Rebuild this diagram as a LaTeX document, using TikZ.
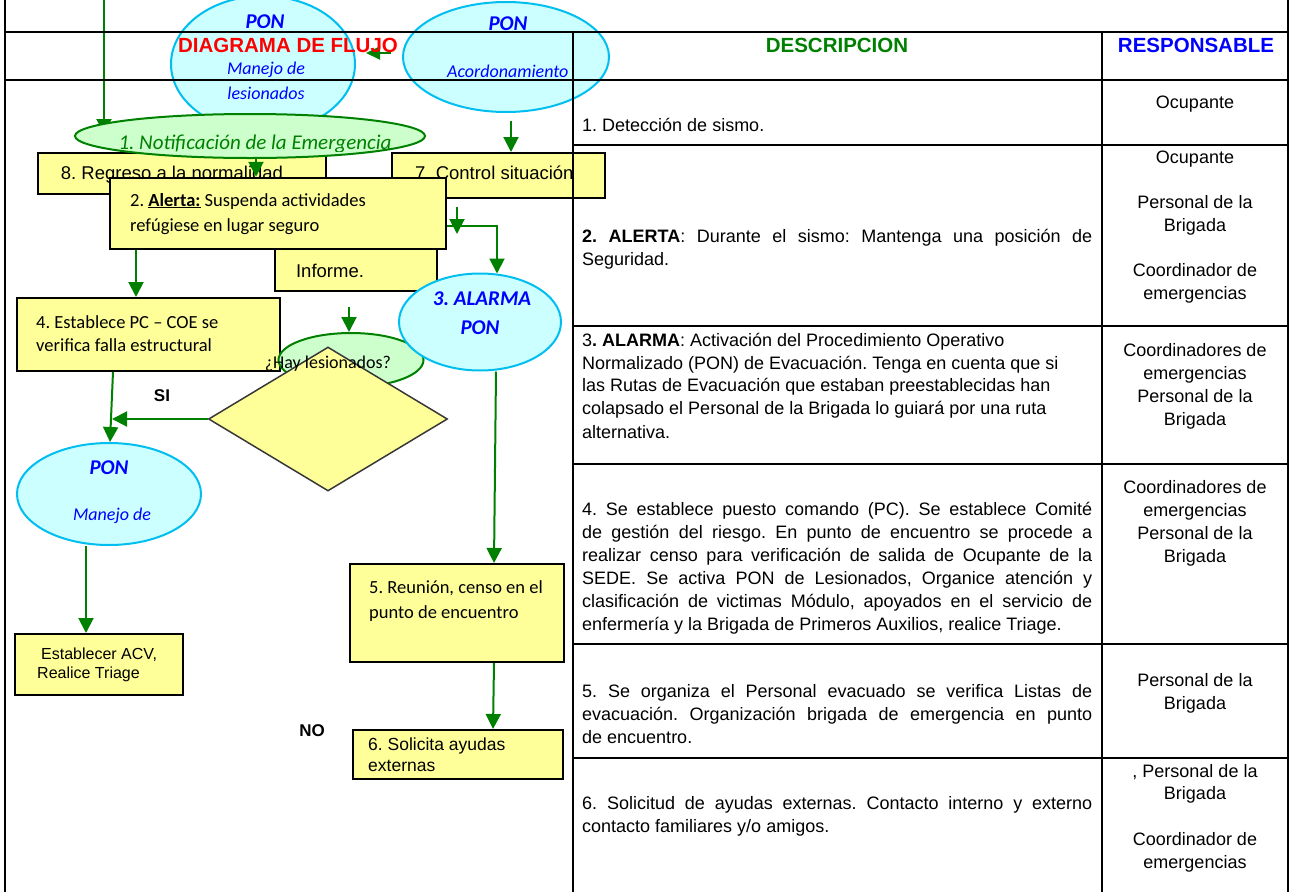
\documentclass[tikz,border=0pt]{standalone}
\usepackage{fontspec}
\setmainfont{Liberation Sans}
\newfontfamily\calfont{Carlito}
\usetikzlibrary{shapes.geometric,arrows.meta}
\definecolor{yel}{HTML}{FFFF99}
\definecolor{cyfill}{HTML}{CCFFFF}
\definecolor{cyline}{HTML}{00BEF0}
\definecolor{grfill}{HTML}{CCFFCC}
\definecolor{grline}{HTML}{008000}
\definecolor{grtext}{HTML}{008000}
\definecolor{bltext}{HTML}{0000FF}
\definecolor{redtext}{HTML}{FF0000}
\definecolor{diaedge}{HTML}{383838}
\newcommand\justline[1]{\makebox[510pt][s]{#1}}
\tikzset{
  ybox/.style={draw=black, line width=2pt, fill=yel, inner sep=0pt},
  cyell/.style={ellipse, draw=cyline, line width=2pt, fill=cyfill, inner sep=0pt},
  grell/.style={ellipse, draw=grline, line width=2pt, fill=grfill, inner sep=0pt},
  arr/.style={draw=grline, line width=2pt, -{Triangle[length=15pt,width=15pt]}},
  gridline/.style={draw=black, line width=1.5pt},
  desc/.style={anchor=base west, inner sep=0pt, font=\fontsize{18}{22}\selectfont},
  resp/.style={anchor=base, inner sep=0pt, font=\fontsize{18}{22}\selectfont},
  hdr/.style={anchor=base, inner sep=0pt, font=\bfseries\fontsize{20.5}{24}\selectfont},
  caltext/.style={anchor=base west, inner sep=0pt, font=\calfont\fontsize{18.5}{22}\selectfont},
  arialtext/.style={anchor=base west, inner sep=0pt, font=\fontsize{18.5}{22}\selectfont},
  ponbig/.style={anchor=base, inner sep=0pt, text=bltext, font=\calfont\bfseries\itshape\fontsize{21}{24}\selectfont},
  ponsmall/.style={anchor=base, inner sep=0pt, text=bltext, font=\calfont\itshape\fontsize{18}{22}\selectfont},
}
\begin{document}
\frenchspacing
\begin{tikzpicture}[x=1pt,y=-1pt]
\useasboundingbox (0,0) rectangle (1291,892);
\fill[white] (0,0) rectangle (1291,892);

% top ellipses
\node[cyell, minimum width=184pt, minimum height=136pt] (eLes) at (263,64) {};
\node[cyell, minimum width=206pt, minimum height=110pt] (eAco) at (506,57) {};
\node[ponbig] (tLesP) at (265,28) {PON};
\node[ponsmall] (tLesA) at (266,74) {Manejo de};
\node[ponsmall] (tLesB) at (266,99) {lesionados};
\node[ponbig] (tAcoP) at (508,30) {PON};
\node[ponsmall, anchor=base west] (tAcoA) at (447,77) {Acordonamiento};

% small arrow between top ellipses
\coordinate (f1) at (391,53);
\coordinate (f2) at (366,53);
\draw[arr, -{Triangle[length=14pt,width=13pt]}] (f1) -- (f2);

% arrow coming from the top
\coordinate (t0) at (104,0);

% boxes 8 and 7
\node[ybox, minimum width=288pt, minimum height=41pt] (b8) at (182,173.5) {};
\node[ybox, minimum width=213pt, minimum height=45pt] (b7) at (498.5,175.5) {};
\node[arialtext, anchor=base] (t8) at (172,179) {8. Regreso a la normalidad};
\node[arialtext] (t7) at (415,179) {7. Control situación};

\draw[arr] (t0) -- (t0 |- 0,134);

% notification ellipse
\node[grell, minimum width=350pt, minimum height=44pt] (eNot) at (250,136) {};
\begin{scope}
  \clip (70,100) rectangle (430,151);
  \node[anchor=base, inner sep=0pt, text=grtext, font=\calfont\itshape\fontsize{21}{24}\selectfont] (tNot) at (255,149) {1. Notificación de la Emergencia};
\end{scope}

\draw[arr] ([xshift=5pt,yshift=-8pt]eAco.south) -- ([xshift=5pt]eAco.south |- b7.north);

% Informe and Alerta boxes
\node[ybox, minimum width=162pt, minimum height=61pt] (bInf) at (356,260.5) {};
\node[arialtext, anchor=base] (tInf) at (330,277) {Informe.};
\node[ybox, line width=2.5pt, minimum width=336pt, minimum height=71pt] (b2) at (278,213.5) {};
\node[caltext] (t2a) at (130,206) {2. \underline{\textbf{Alerta:}} Suspenda actividades};
\node[caltext] (t2b) at (130,231) {refúgiese en lugar seguro};

\draw[arr] ([xshift=6pt]eNot.south) -- ([xshift=6pt]eNot.south |- b2.north);

% box 4
\node[ybox, minimum width=263pt, minimum height=73pt] (b4) at (148.5,334.5) {};
\node[caltext] (t4a) at (36,328) {4. Establece PC – COE se};
\node[caltext] (t4b) at (36,351) {verifica falla estructural};

% lesionados question ellipse and diamond
\node[grell, minimum width=145pt, minimum height=54pt] (eHay) at (351,360) {};
\node[diamond, draw=diaedge, line width=1.5pt, fill=yel, inner sep=0pt, minimum width=239pt, minimum height=144pt] (dia) at (328,419) {};
\node[anchor=base, inner sep=0pt, font=\calfont\fontsize{18}{22}\selectfont] (tHay) at (328,368) {¿Hay lesionados?};

% alarma ellipse
\node[cyell, minimum width=162pt, minimum height=97pt] (eAla) at (480,322) {};
\node[ponbig] (tAlaA) at (482,305) {3. ALARMA};
\node[ponbig] (tAlaB) at (480,334) {PON};

% lower PON ellipse
\node[cyell, minimum width=184pt, minimum height=102pt] (ePon) at (109,494) {};
\node[ponbig] (tPonA) at (109,474) {PON};
\node[ponsmall] (tPonB) at (112,520) {Manejo de};

% lower boxes
\node[ybox, minimum width=168pt, minimum height=61pt] (bACV) at (99,664.5) {};
\node[anchor=base west, inner sep=0pt, font=\fontsize{16}{19}\selectfont] (tACVa) at (41,659) {Establecer ACV,};
\node[anchor=base west, inner sep=0pt, font=\fontsize{16}{19}\selectfont] (tACVb) at (37,678) {Realice Triage};
\node[ybox, minimum width=214pt, minimum height=98pt] (b5) at (457,613) {};
\node[caltext] (t5a) at (369,593) {5. Reunión, censo en el};
\node[caltext] (t5b) at (369,618) {punto de encuentro};
\node[ybox, minimum width=210pt, minimum height=49pt] (b6) at (458,754.5) {};
\node[anchor=base west, inner sep=0pt, font=\fontsize{17.5}{21}\selectfont] (t6a) at (368,750) {6. Solicita ayudas};
\node[anchor=base west, inner sep=0pt, font=\fontsize{17.5}{21}\selectfont] (t6b) at (368,771) {externas};

\node[anchor=base, inner sep=0pt, font=\bfseries\fontsize{17}{20}\selectfont] (tSI) at (162,401) {SI};
\node[anchor=base, inner sep=0pt, font=\bfseries\fontsize{17}{20}\selectfont] (tNO) at (312,736) {NO};

% connectors
\coordinate (k1) at (497,226);
\coordinate (s1) at (457,207);
\coordinate (s2) at (457,234);
\coordinate (h1) at (349,307);
\coordinate (j1) at (112,419);
\draw[arr] (b2.east |- k1) -| ([xshift=17pt,yshift=-1pt]eAla.north);
\draw[arr] (s1) -- (s2);
\draw[arr] ([xshift=-142pt]b2.south) -- ([xshift=-142pt]b2.south |- b4.north);
\draw[arr] (h1) -- (h1 |- eHay.north);
\draw[arr] (dia.west) -- (j1);
\draw[arr] ([xshift=-35.5pt]b4.south) -- ([xshift=1pt]ePon.north);
\draw[arr] ([xshift=-23pt]ePon.south) -- ([xshift=-23pt]ePon.south |- bACV.north);
\draw[arr] ([xshift=16pt]eAla.south) -- ([xshift=37pt]b5.north);
\draw[arr] ([xshift=37pt]b5.south) -- ([xshift=35pt]b6.north);

% header texts
\node[hdr, text=redtext] (hDia) at (288,52) {DIAGRAMA DE FLUJO};
\node[hdr, text=grtext] (hDes) at (837,52) {DESCRIPCION};
\node[hdr, text=bltext] (hRes) at (1196,52) {RESPONSABLE};

% grid
\draw[gridline] (5,0) -- (5,892);
\draw[gridline] (1288,0) -- (1288,892);
\draw[gridline] (5,32) -- (1288,32);
\draw[gridline] (5,80) -- (1288,80);
\draw[gridline] (573,32) -- (573,892);
\draw[gridline] (1102,32) -- (1102,892);
\foreach \yy in {145,326,464,644,758} {\draw[gridline] (573,\yy) -- (1288,\yy);}

% description column
\node[desc] (d1) at (582,131) {1. Detección de sismo.};
\node[desc] (d2a) at (582,242) {\justline{\textbf{2. ALERTA}: Durante el sismo: Mantenga una posición de}};
\node[desc] (d2b) at (582,265) {Seguridad.};
\node[desc] (d3a) at (582,346) {3\textbf{. ALARMA}: Activación del Procedimiento Operativo};
\node[desc] (d3b) at (582,369) {Normalizado (PON) de Evacuación. Tenga en cuenta que si};
\node[desc] (d3c) at (582,391) {las Rutas de Evacuación que estaban preestablecidas han};
\node[desc] (d3d) at (582,414) {colapsado el Personal de la Brigada lo guiará por una ruta};
\node[desc] (d3e) at (582,438) {alternativa.};
\node[desc] (d4a) at (582,515) {\justline{4. Se establece puesto comando (PC). Se establece Comité}};
\node[desc] (d4b) at (582,538) {\justline{de gestión del riesgo. En punto de encuentro se procede a}};
\node[desc] (d4c) at (582,561) {\justline{realizar censo para verificación de salida de Ocupante de la}};
\node[desc] (d4d) at (582,584) {\justline{SEDE. Se activa PON de Lesionados, Organice atención y}};
\node[desc] (d4e) at (582,607) {\justline{clasificación de victimas Módulo, apoyados en el servicio de}};
\node[desc] (d4f) at (582,630) {enfermería y la Brigada de Primeros Auxilios, realice Triage.};
\node[desc] (d5a) at (582,697) {\justline{5. Se organiza el Personal evacuado se verifica Listas de}};
\node[desc] (d5b) at (582,720) {\justline{evacuación. Organización brigada de emergencia en punto}};
\node[desc] (d5c) at (582,743) {de encuentro.};
\node[desc] (d6a) at (582,809) {\justline{6. Solicitud de ayudas externas. Contacto interno y externo}};
\node[desc] (d6b) at (582,832) {contacto familiares y/o amigos.};

% responsible column
\foreach \yy/\rt [count=\i] in {108/Ocupante, 163/Ocupante, 208/Personal de la, 231/Brigada, 276/Coordinador de, 299/emergencias,
  356/Coordinadores de, 379/emergencias, 402/Personal de la, 425/Brigada,
  493/Coordinadores de, 516/emergencias, 539/Personal de la, 562/Brigada,
  686/Personal de la, 709/Brigada,
  777/{, Personal de la}, 799/Brigada, 845/Coordinador de, 868/emergencias}
  {\node[resp] (r\i) at (1195,\yy) {\rt};}
\end{tikzpicture}
\end{document}
